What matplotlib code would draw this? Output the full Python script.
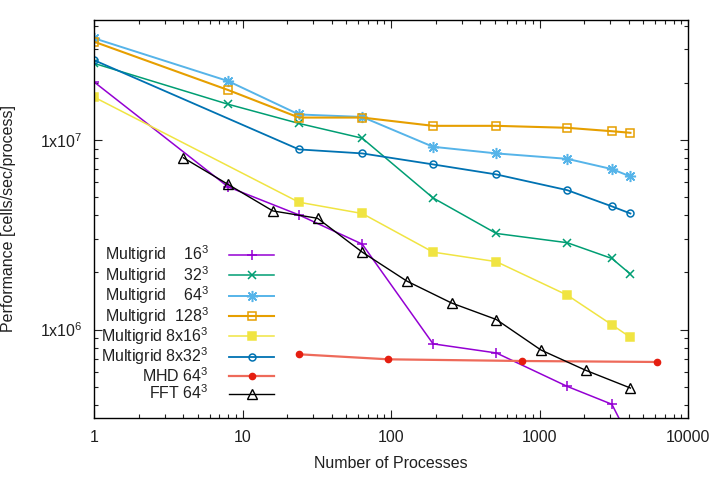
# gnuplot-style scaling plot: performance per process vs number of processes

import matplotlib
matplotlib.use('Agg')
import matplotlib.pyplot as plt
from matplotlib.ticker import FixedLocator, FixedFormatter, LogLocator, NullFormatter

plt.rcParams['font.family'] = ['Liberation Sans', 'DejaVu Sans']
plt.rcParams['mathtext.default'] = 'regular'

# data
procs_mg = [1, 8, 24, 64, 192, 512, 1536, 3072, 4096]
mg16 = [2.02e7, 5.65e6, 4.02e6, 2.82e6, 8.41e5, 7.53e5, 5.02e5, 4.04e5, 2.6e5]
mg32 = [2.53e7, 1.54e7, 1.22e7, 1.02e7, 4.94e6, 3.21e6, 2.87e6, 2.37e6, 1.96e6]
mg64 = [3.43e7, 2.04e7, 1.36e7, 1.32e7, 9.19e6, 8.48e6, 7.94e6, 7.01e6, 6.41e6]
mg128 = [3.29e7, 1.83e7, 1.31e7, 1.31e7, 1.185e7, 1.185e7, 1.157e7, 1.11e7, 1.089e7]

procs_mg8 = [1, 24, 64, 192, 512, 1536, 3072, 4096]
mg8x16 = [1.68e7, 4.69e6, 4.09e6, 2.56e6, 2.28e6, 1.52e6, 1.06e6, 9.1e5]
mg8x32 = [2.63e7, 8.90e6, 8.48e6, 7.42e6, 6.57e6, 5.43e6, 4.46e6, 4.09e6]

procs_mhd = [24, 96, 768, 6144]
mhd64 = [7.41e5, 6.97e5, 6.83e5, 6.75e5]

procs_fft = [4, 8, 16, 32, 64, 128, 256, 512, 1024, 2048, 4096]
fft64 = [8.04e6, 5.82e6, 4.22e6, 3.86e6, 2.56e6, 1.80e6, 1.38e6, 1.13e6, 7.80e5, 6.10e5, 4.92e5]

labels = ['Multigrid    16$^3$', 'Multigrid    32$^3$', 'Multigrid    64$^3$',
          'Multigrid  128$^3$', 'Multigrid 8x16$^3$', 'Multigrid 8x32$^3$',
          'MHD 64$^3$', 'FFT 64$^3$']

x_ticks = [1, 10, 100, 1000, 10000]
x_ticklabels = ['1', '10', '100', '1000', '10000']
y_ticks = [1e6, 1e7]
y_ticklabels = ['1x10$^6$', '1x10$^7$']

fs = 11.5

fig = plt.figure(figsize=(7.17, 4.78), dpi=100)
ax = fig.add_axes([94/717, 60/478, 594/717, 398/478])

ax.plot(procs_mg, mg16, color='#9400D3', lw=1.1, marker='+', ms=7, mew=1.1, label=labels[0])
ax.plot(procs_mg, mg32, color='#009E73', lw=1.1, marker='x', ms=6, mew=1.1, label=labels[1])
ax.plot(procs_mg, mg64, color='#56B4E9', lw=1.4, marker=(8, 2, 0), ms=8, mew=1.1, label=labels[2])
ax.plot(procs_mg, mg128, color='#E69F00', lw=1.5, marker='s', ms=6, mew=1.1,
        mfc='none', label=labels[3])
ax.plot(procs_mg8, mg8x16, color='#F0E442', lw=1.1, marker='s', ms=6, mew=1.1, label=labels[4])
ax.plot(procs_mg8, mg8x32, color='#0072B2', lw=1.3, marker='o', ms=5, mew=1.1,
        mfc='none', label=labels[5])
ax.plot(procs_mhd, mhd64, color='#EE6A5A', lw=1.6, marker='o', ms=4.5, mfc='#E51E10',
        mec='#E51E10', label=labels[6])
ax.plot(procs_fft, fft64, color='black', lw=1.0, marker='^', ms=7, mew=1.0,
        mfc='none', label=labels[7])

ax.set_xscale('log')
ax.set_yscale('log')
ax.set_xlim(1, 10000)
ax.set_ylim(3.42e5, 4.28e7)

ax.xaxis.set_major_locator(FixedLocator(x_ticks))
ax.xaxis.set_major_formatter(FixedFormatter(x_ticklabels))
ax.yaxis.set_major_locator(FixedLocator(y_ticks))
ax.yaxis.set_major_formatter(FixedFormatter(y_ticklabels))
ax.xaxis.set_minor_locator(LogLocator(base=10, subs=range(2, 10)))
ax.yaxis.set_minor_locator(LogLocator(base=10, subs=range(2, 10)))
ax.xaxis.set_minor_formatter(NullFormatter())
ax.yaxis.set_minor_formatter(NullFormatter())

ax.tick_params(which='both', direction='in', top=True, right=True, labelsize=fs,
               colors='#202020', width=0.8)
ax.tick_params(which='major', length=6)
ax.tick_params(which='minor', length=3)
ax.tick_params(axis='x', pad=9)
ax.tick_params(axis='y', pad=8)
for s in ax.spines.values():
    s.set_linewidth(1.0)

ax.set_xlabel('Number of Processes', fontsize=fs, color='#202020')
ax.set_ylabel('Performance [cells/sec/process]', fontsize=fs, color='#202020')
ax.xaxis.set_label_coords(0.5, -0.095)
ax.yaxis.set_label_coords(-0.131, 0.5)

leg = ax.legend(loc='center right', bbox_to_anchor=(274/717, 1 - 323/478),
                bbox_transform=fig.transFigure, frameon=False, markerfirst=False,
                handlelength=2.8, handletextpad=1.3, labelspacing=-0.08,
                borderpad=0, borderaxespad=0, fontsize=fs)
for t in leg.get_texts():
    t.set_color('#202020')

fig.savefig('out.png', dpi=100)
